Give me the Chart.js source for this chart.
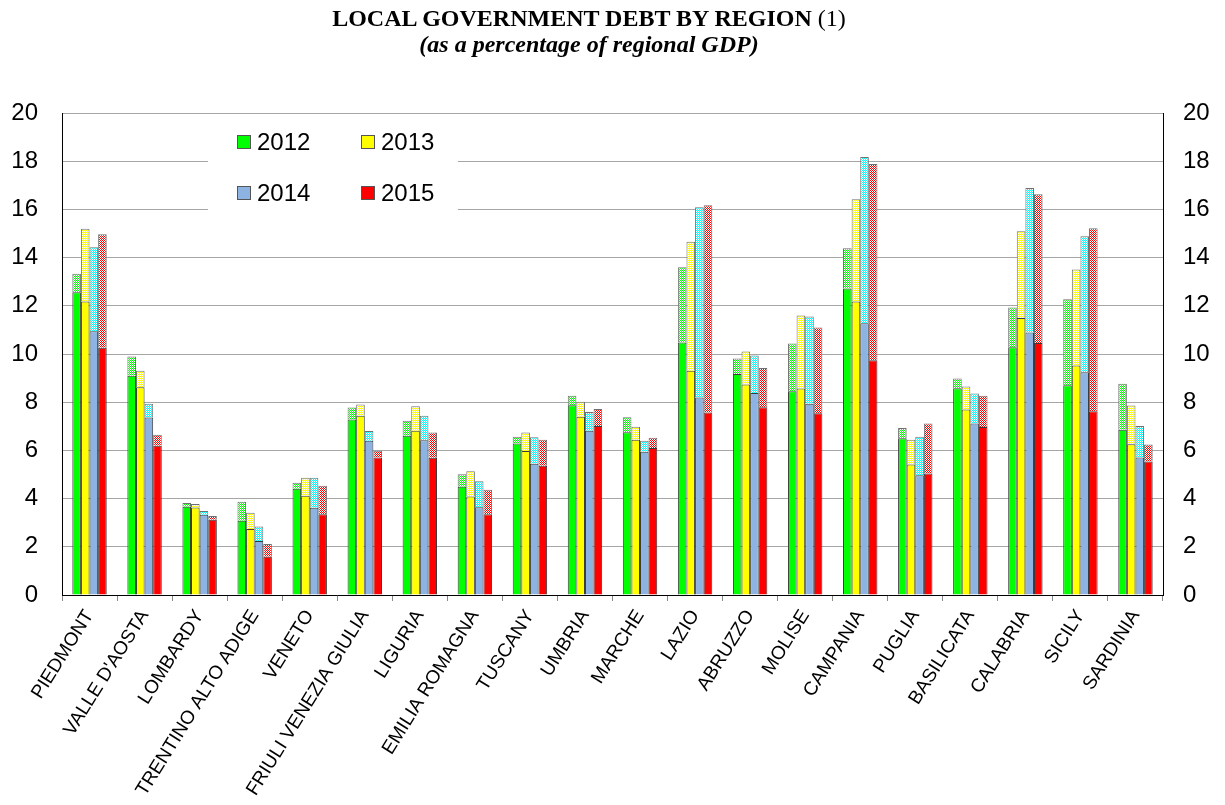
<!DOCTYPE html>
<html>
<head>
<meta charset="utf-8">
<script src="https://cdn.jsdelivr.net/npm/chart.js@4"></script>
<style>
  body { margin: 0; background: #fff; }
  #wrap { position: relative; width: 1225px; height: 805px; }
  #titolo { position: absolute; left: 0; top: 5px; width: 1178px; text-align: center;
            font-family: "Liberation Serif", "Times New Roman", serif; color: #000; }
  #titolo .t1 { font-size: 24px; font-weight: bold; line-height: 26px; }
  #titolo .t1 span { font-weight: normal; }
  #titolo .t2 { font-size: 24px; font-weight: bold; font-style: italic; line-height: 26px; }
  canvas { position: absolute; left: 0; top: 0; }
</style>
</head>
<body>
<div id="wrap">
  <canvas id="grafico" width="1225" height="805"></canvas>
  <div id="titolo">
    <div class="t1">LOCAL GOVERNMENT DEBT BY REGION <span>(1)</span></div>
    <div class="t2">(as a percentage of regional GDP)</div>
  </div>
</div>
<script>
const regioni = ["PIEDMONT", "VALLE D'AOSTA", "LOMBARDY", "TRENTINO ALTO ADIGE", "VENETO",
  "FRIULI VENEZIA GIULIA", "LIGURIA", "EMILIA ROMAGNA", "TUSCANY", "UMBRIA", "MARCHE",
  "LAZIO", "ABRUZZO", "MOLISE", "CAMPANIA", "PUGLIA", "BASILICATA", "CALABRIA", "SICILY", "SARDINIA"]

const anni = ["2012", "2013", "2014", "2015"]

// parte piena (in basso)
const base2012 = [12.56, 9.10, 3.66, 3.08, 4.41, 7.28, 6.61, 4.49, 6.29, 7.87, 6.75, 10.48, 9.17, 8.45, 12.72, 6.50, 8.58, 10.28, 8.70, 6.86]
const base2013 = [12.18, 8.62, 3.63, 2.74, 4.12, 7.44, 6.82, 4.09, 5.97, 7.40, 6.44, 9.31, 8.73, 8.57, 12.18, 5.41, 7.70, 11.49, 9.52, 6.26]
const base2014 = [10.94, 7.37, 3.33, 2.24, 3.62, 6.40, 6.42, 3.64, 5.45, 6.82, 5.94, 8.19, 8.38, 7.94, 11.28, 4.97, 7.12, 10.89, 9.24, 5.71]
const base2015 = [10.26, 6.19, 3.12, 1.59, 3.35, 5.71, 5.70, 3.35, 5.36, 7.01, 6.10, 7.57, 7.79, 7.54, 9.74, 5.04, 6.97, 10.46, 7.62, 5.54]

// totale (cima della barra tratteggiata)
const totale2012 = [13.33, 9.90, 3.82, 3.87, 4.66, 7.78, 7.23, 5.01, 6.57, 8.27, 7.38, 13.60, 9.81, 10.44, 14.39, 6.93, 8.98, 11.93, 12.27, 8.77]
const totale2013 = [15.20, 9.30, 3.78, 3.41, 4.86, 7.90, 7.83, 5.13, 6.74, 8.02, 6.98, 14.66, 10.10, 11.60, 16.42, 6.44, 8.65, 15.09, 13.51, 7.86]
const totale2014 = [14.43, 7.94, 3.49, 2.84, 4.86, 6.80, 7.44, 4.72, 6.55, 7.59, 6.40, 16.09, 9.94, 11.56, 18.17, 6.57, 8.36, 16.89, 14.89, 7.01]
const totale2015 = [14.97, 6.65, 3.28, 2.12, 4.53, 5.99, 6.74, 4.37, 6.44, 7.72, 6.53, 16.17, 9.42, 11.10, 17.88, 7.12, 8.27, 16.63, 15.22, 6.24]

const tickY = [0, 2, 4, 6, 8, 10, 12, 14, 16, 18, 20]

const basi = [base2012, base2013, base2014, base2015]
const totali = [totale2012, totale2013, totale2014, totale2015]
const coloriPieni = ["#00ff00", "#ffff00", "#8db3e2", "#ff0000"]
const coloriTrama = ["#00ff00", "#ffff00", "#00ffff", "#ff0000"]

const canvas = document.getElementById("grafico")
const ctxMain = canvas.getContext("2d")

// trama a scacchi: colore + bianco
const creaTrama = (colore) => {
  const c = document.createElement("canvas")
  c.width = 2
  c.height = 2
  const g = c.getContext("2d")
  g.fillStyle = "#ffffff"
  g.fillRect(0, 0, 2, 2)
  g.fillStyle = colore
  g.fillRect(0, 0, 1, 1)
  g.fillRect(1, 1, 1, 1)
  return ctxMain.createPattern(c, "repeat")
}

const datasets = []
anni.forEach((anno, i) => {
  datasets.push({
    label: anno,
    data: basi[i],
    backgroundColor: coloriPieni[i],
    borderColor: "#3a3a3a",
    borderWidth: 1,
    borderSkipped: "start",
    stack: "s" + anno,
    yAxisID: "y"
  })
})
anni.forEach((anno, i) => {
  datasets.push({
    label: anno + " top",
    data: totali[i].map((v, k) => +(v - basi[i][k]).toFixed(2)),
    backgroundColor: creaTrama(coloriTrama[i]),
    borderColor: "#707070",
    borderWidth: 1,
    borderSkipped: "start",
    stack: "s" + anno,
    yAxisID: "y"
  })
})
datasets.forEach(d => { d.barPercentage = 1.0; d.categoryPercentage = 0.625 })

// legenda dentro l'area del grafico
const legendaInterna = {
  id: "legendaInterna",
  afterDatasetsDraw(chart) {
    const ctx = chart.ctx
    ctx.save()
    ctx.fillStyle = "#ffffff"
    ctx.fillRect(208, 115, 250, 97)
    const pos = [[237, 142], [361, 142], [237, 193], [361, 193]]
    anni.forEach((anno, i) => {
      const [x, y] = pos[i]
      ctx.fillStyle = coloriPieni[i]
      ctx.fillRect(x, y - 7, 14, 14)
      ctx.strokeStyle = "#555"
      ctx.lineWidth = 1
      ctx.strokeRect(x + 0.5, y - 6.5, 13, 13)
      ctx.fillStyle = "#000"
      ctx.font = "24px 'Liberation Sans', Arial, sans-serif"
      ctx.textBaseline = "middle"
      ctx.fillText(anno, x + 20, y + 1)
    })
    ctx.restore()
  }
}

const asseY = (pos) => ({
  position: pos,
  min: 0,
  max: 20,
  stacked: true,
  afterBuildTicks: (ax) => { ax.ticks = tickY.map(v => ({ value: v })) },
  afterFit: (ax) => { ax.width = 62 },
  grid: {
    display: pos === "left",
    drawOnChartArea: pos === "left",
    drawTicks: false,
    color: "#a6a6a6",
    lineWidth: 1
  },
  border: { display: true, color: "#000", width: 1 },
  ticks: {
    padding: pos === "left" ? 24 : 20,
    color: "#000",
    font: { family: "'Liberation Sans', Arial, sans-serif", size: 24 }
  }
})

new Chart(canvas, {
  type: "bar",
  data: { labels: regioni, datasets: datasets },
  options: {
    responsive: false,
    animation: false,
    layout: { padding: { left: 0, right: 0, top: 113, bottom: 0 } },
    plugins: {
      legend: { display: false },
      tooltip: { enabled: false }
    },
    scales: {
      x: {
        stacked: true,
        afterFit: (ax) => { ax.height = 210 },
        grid: {
          offset: true,
          drawOnChartArea: false,
          drawTicks: true,
          tickLength: 6,
          color: "#888"
        },
        border: { display: true, color: "#000", width: 1 },
        ticks: {
          minRotation: 58,
          maxRotation: 58,
          autoSkip: false,
          padding: 5,
          color: "#000",
          font: { family: "'Liberation Sans', Arial, sans-serif", size: 19 }
        }
      },
      y: asseY("left"),
      y1: asseY("right")
    }
  },
  plugins: [legendaInterna]
})
</script>
</body>
</html>
